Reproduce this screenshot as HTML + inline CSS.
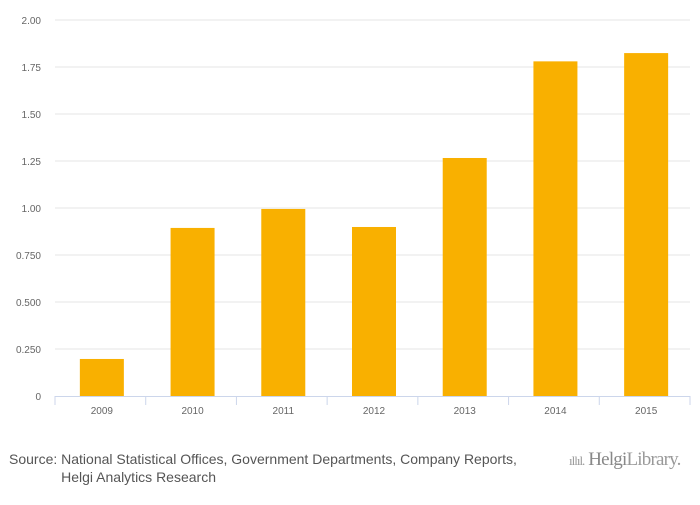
<!DOCTYPE html>
<html><head><meta charset="utf-8"><style>
body{margin:0;width:700px;height:500px;background:#fff;font-family:"Liberation Sans",sans-serif;overflow:hidden}
</style></head><body>
<svg id="chart" width="700" height="500" xmlns="http://www.w3.org/2000/svg"></svg>
<script>
const categories=["2009","2010","2011","2012","2013","2014","2015"];
const values=[0.197,0.894,0.995,0.899,1.266,1.78,1.824];
const yTicks=[0,0.25,0.5,0.75,1,1.25,1.5,1.75,2];
const yTickLabels=["0","0.250","0.500","0.750","1.00","1.25","1.50","1.75","2.00"];
const svg=document.getElementById('chart');
const NS="http://www.w3.org/2000/svg";
const x0=55,x1=690,yBase=396,yTop=20;
const y=v=>yBase-(v/2)*(yBase-yTop);
const band=(x1-x0)/categories.length;
function mk(t,a){const e=document.createElementNS(NS,t);for(const k in a)e.setAttribute(k,a[k]);svg.appendChild(e);return e;}
yTicks.forEach((v,i)=>{
  if(i>0){const g=mk('line',{x1:x0,x2:x1,y1:y(v),y2:y(v),stroke:'#e6e6e6','stroke-width':1});
  
  }
  const t=mk('text',{x:41,y:y(v)+4,'text-anchor':'end','font-size':10,fill:'#666'});
  t.textContent=yTickLabels[i];
  
  
});
categories.forEach((c,i)=>{
  const cx=x0+band*(i+0.5)+1.5;
  const r=mk('rect',{x:cx-22,y:y(values[i]),width:44,height:yBase-y(values[i]),fill:'#f9b000'});
  
  
  const t=mk('text',{x:cx,y:414,'text-anchor':'middle','font-size':10,fill:'#666'});
  t.textContent=c;
  
  
});
for(let i=0;i<=categories.length;i++){
  const xx=x0+band*i;
  const tk=mk('line',{x1:xx,x2:xx,y1:yBase,y2:yBase+9,stroke:'#ccd6eb'});
  
  
}
const ax=mk('line',{x1:x0,x2:x1,y1:yBase+0.5,y2:yBase+0.5,stroke:'#ccd6eb'});


</script>
<div style="position:absolute;left:9px;top:450px;font-size:14px;color:#555;line-height:18px">
<span style="display:inline-block;vertical-align:top">Source:&nbsp;</span><span style="display:inline-block">National Statistical Offices, Government Departments, Company Reports,<br>Helgi Analytics Research</span></div>
<div style="position:absolute;left:569px;top:449px;font-family:'Liberation Serif',serif;font-size:19px;color:#999;letter-spacing:-0.8px;white-space:nowrap"><span style="font-size:13px;letter-spacing:-1px">ıllıl.</span> <span style="color:#888">Helgi</span>Library.</div>
</body></html>
